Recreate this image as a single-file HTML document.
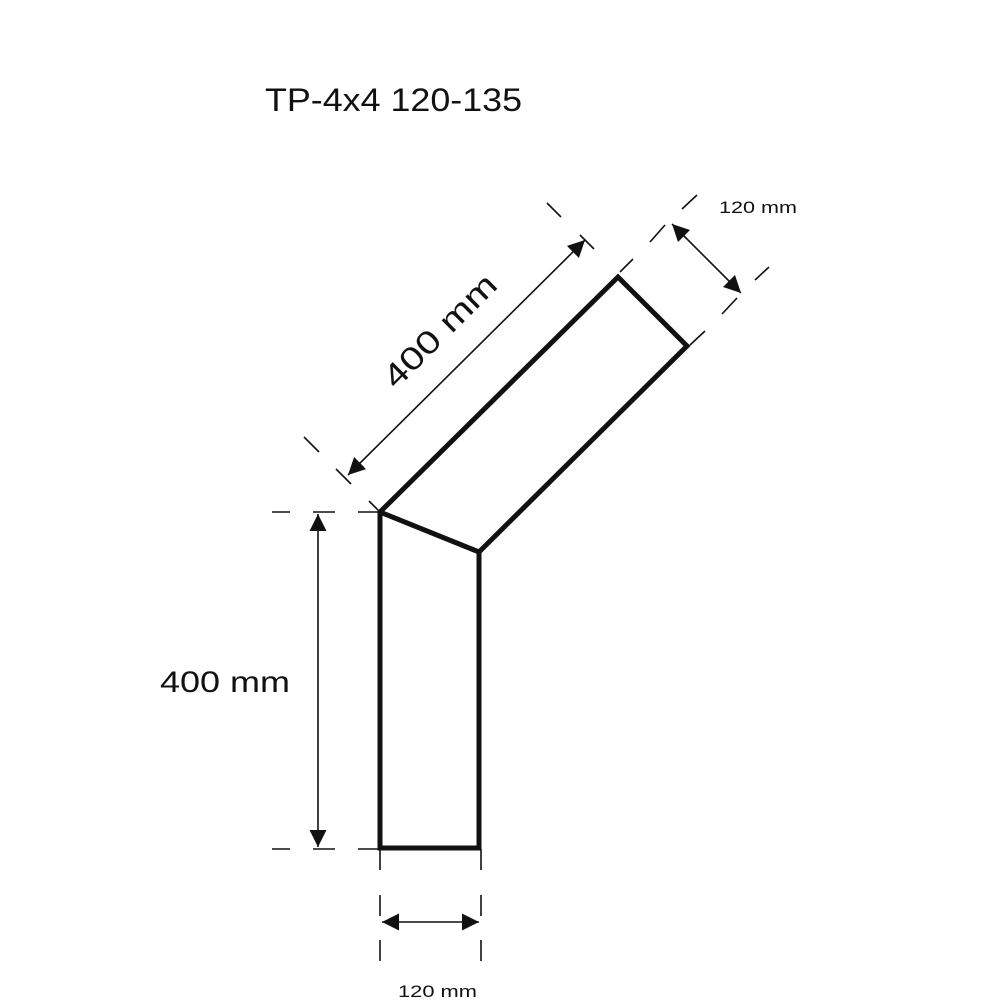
<!DOCTYPE html>
<html><head><style>
html,body{margin:0;padding:0;background:#fff;}
svg{display:block;}
text{font-family:"Liberation Sans",sans-serif;fill:#111;}
</style></head><body>
<svg width="1000" height="1000" viewBox="0 0 1000 1000" xmlns="http://www.w3.org/2000/svg">
<defs>
<marker id="a" viewBox="0 0 10 10" refX="10" refY="5" markerWidth="17" markerHeight="17" markerUnits="userSpaceOnUse" orient="auto-start-reverse">
<path d="M0,0 L10,5 L0,10 z" fill="#111"/></marker>
</defs>
<text x="265" y="111" font-size="32" textLength="257" lengthAdjust="spacingAndGlyphs">TP-4x4 120-135</text>
<!-- shape -->
<g fill="none" stroke="#111" stroke-width="5" stroke-linejoin="miter">
<polygon points="380,512 618,277 687,346 479,552 479,848 380,848"/>
<line x1="380" y1="512" x2="479" y2="552"/>
</g>
<!-- dashed extension lines -->
<g stroke="#111" stroke-width="1.6">
<line x1="272" y1="512" x2="290" y2="512"/><line x1="313" y1="512" x2="335" y2="512"/><line x1="358" y1="512" x2="380" y2="512"/>
<line x1="272" y1="849" x2="290" y2="849"/><line x1="313" y1="849" x2="335" y2="849"/><line x1="358" y1="849" x2="380" y2="849"/>
<line x1="380" y1="849" x2="380" y2="870"/><line x1="380" y1="895" x2="380" y2="916"/><line x1="380" y1="940" x2="380" y2="961"/>
<line x1="481" y1="849" x2="481" y2="870"/><line x1="481" y1="895" x2="481" y2="916"/><line x1="481" y1="940" x2="481" y2="961"/>
<line x1="304" y1="437" x2="319" y2="452"/><line x1="336" y1="469" x2="351" y2="484"/><line x1="369" y1="501" x2="380" y2="512"/>
<line x1="547" y1="203" x2="561" y2="217"/><line x1="580" y1="235" x2="594" y2="249"/>
<line x1="697" y1="195" x2="682" y2="209"/><line x1="665" y1="225" x2="650" y2="242"/><line x1="633" y1="259" x2="620" y2="272"/>
<line x1="769" y1="267" x2="755" y2="280"/><line x1="737" y1="298" x2="722" y2="314"/><line x1="705" y1="331" x2="690" y2="345"/>
</g>
<!-- dimension arrows -->
<g stroke="#111" stroke-width="1.6" marker-start="url(#a)" marker-end="url(#a)">
<line x1="318" y1="514" x2="318" y2="847"/>
<line x1="382" y1="922" x2="479" y2="922"/>
<line x1="348" y1="475" x2="585" y2="240"/>
<line x1="672" y1="224" x2="741" y2="293"/>
</g>
<text x="160" y="692" font-size="30" textLength="130" lengthAdjust="spacingAndGlyphs">400 mm</text>
<text x="398" y="997" font-size="17" textLength="79" lengthAdjust="spacingAndGlyphs">120 mm</text>
<text x="719" y="213" font-size="17" textLength="78" lengthAdjust="spacingAndGlyphs">120 mm</text>
<text transform="translate(396,390) rotate(-45)" font-size="32" textLength="146" lengthAdjust="spacingAndGlyphs">400 mm</text>
</svg>
</body></html>
